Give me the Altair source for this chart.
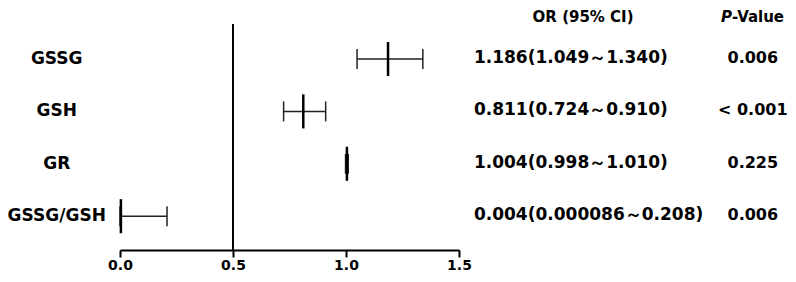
import altair as alt
import pandas as pd

# ---- data ----
markers = ["GSSG", "GSH", "GR", "GSSG/GSH"]
odds = [1.186, 0.811, 1.004, 0.004]
ci_low = [1.049, 0.724, 0.998, 0.000086]
ci_high = [1.340, 0.910, 1.010, 0.208]
or_text = ["1.186(1.049～1.340)", "0.811(0.724～0.910)",
           "1.004(0.998～1.010)", "0.004(0.000086～0.208)"]
p_text = ["0.006", "< 0.001", "0.225", "0.006"]
x_ticks = [0.0, 0.5, 1.0, 1.5]
ref_value = 0.5

FONT = "DejaVu Sans"

rows = list(range(len(markers)))
cap = 0.19      # half height of CI caps, in row units
mid = 0.325     # half height of the point marker, in row units

df = pd.DataFrame({
    "marker": markers, "row": rows, "oddsr": odds, "lo": ci_low, "hi": ci_high,
    "or_text": or_text, "p_text": p_text,
})
df["cap_top"] = df["row"] - cap
df["cap_bot"] = df["row"] + cap
df["mid_top"] = df["row"] - mid
df["mid_bot"] = df["row"] + mid
df["label_x"] = -0.28
df["or_x"] = 1.566
df["p_x"] = 2.80
df["ref"] = ref_value
df["hdr_y"] = -0.81
df["hdr_or_x"] = 2.049
df["hdr_p_x"] = 2.708
df["hdr_or"] = "OR (95% CI)"
df["hdr_p"] = "P"
df["hdr_v"] = "-Value"

xs = alt.Scale(domain=[0, 1.5], nice=False, zero=False)
ys = alt.Scale(domain=[-0.668, 3.645], reverse=True, nice=False, zero=False)

X = alt.X("lo:Q", scale=xs, axis=alt.Axis(
    values=x_ticks, format=".1f", title=None, grid=False,
    domainColor="black", domainWidth=2, tickColor="black", tickWidth=2,
    tickSize=7, labelFont=FONT, labelFontWeight="bold", labelFontSize=14,
    labelColor="black", labelPadding=1, labelFlush=False))
Y = alt.Y("row:Q", scale=ys, axis=None)

base = alt.Chart(df)

ci_line = base.mark_rule(color="#222222", strokeWidth=1.5).encode(
    x=X, x2="hi:Q", y=Y)
cap_lo = base.mark_rule(color="#222222", strokeWidth=1.5).encode(
    x=alt.X("lo:Q"), y=alt.Y("cap_top:Q"), y2="cap_bot:Q")
cap_hi = base.mark_rule(color="#222222", strokeWidth=1.5).encode(
    x=alt.X("hi:Q"), y=alt.Y("cap_top:Q"), y2="cap_bot:Q")
point = base.mark_rule(color="black", strokeWidth=2.5).encode(
    x=alt.X("oddsr:Q"), y=alt.Y("mid_top:Q"), y2="mid_bot:Q")

ref = base.transform_filter("datum.row == 0").mark_rule(
    color="black", strokeWidth=2).encode(x=alt.X("ref:Q"))

labels = base.mark_text(font=FONT, fontWeight="bold", fontSize=17,
                        align="center", baseline="middle", color="black").encode(
    x=alt.X("label_x:Q"), y=alt.Y("row:Q"), text="marker:N")
or_vals = base.mark_text(font=FONT, fontWeight="bold", fontSize=17, dy=-1,
                         align="left", baseline="middle", color="black").encode(
    x=alt.X("or_x:Q"), y=alt.Y("row:Q"), text="or_text:N")
p_vals = base.mark_text(font=FONT, fontWeight="bold", fontSize=16, dy=-1,
                        align="center", baseline="middle", color="black").encode(
    x=alt.X("p_x:Q"), y=alt.Y("row:Q"), text="p_text:N")

hbase = base.transform_filter("datum.row == 0")
h1 = hbase.mark_text(font=FONT, fontWeight="bold", fontSize=15,
                     align="center", baseline="middle", color="black").encode(
    x=alt.X("hdr_or_x:Q"), y=alt.Y("hdr_y:Q"), text="hdr_or:N")
h2 = hbase.mark_text(font=FONT, fontWeight="bold", fontStyle="italic",
                     fontSize=15, align="right", baseline="middle",
                     color="black").encode(
    x=alt.X("hdr_p_x:Q"), y=alt.Y("hdr_y:Q"), text="hdr_p:N")
h3 = hbase.mark_text(font=FONT, fontWeight="bold", fontSize=15,
                     align="left", baseline="middle", color="black").encode(
    x=alt.X("hdr_p_x:Q"), y=alt.Y("hdr_y:Q"), text="hdr_v:N")

chart = alt.layer(ci_line, cap_lo, cap_hi, point, ref, labels, or_vals, p_vals,
                  h1, h2, h3).properties(
    width=339, height=226,
    autosize=alt.AutoSizeParams(type="none"),
    padding={"left": 112, "top": 16, "right": 329, "bottom": 24},
).configure_view(strokeWidth=0)

chart.save("out.html", embed_options={"renderer": "svg", "actions": False})
